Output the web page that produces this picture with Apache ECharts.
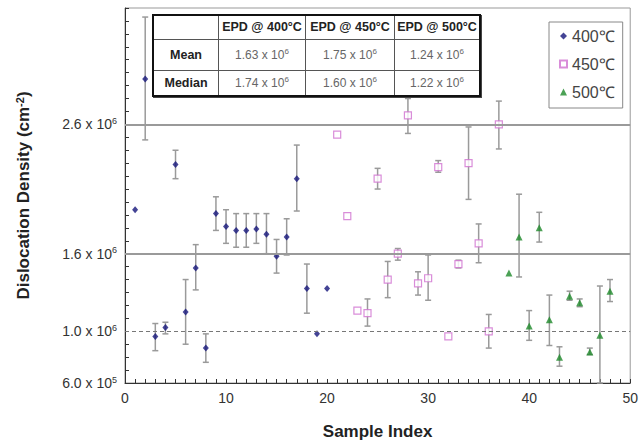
<!DOCTYPE html>
<html>
<head>
<meta charset="utf-8">
<script src="https://cdn.jsdelivr.net/npm/echarts@6/dist/echarts.min.js"></script>
<style>
  html, body { margin:0; padding:0; background:#fff; }
  #wrap { position:relative; width:641px; height:445px; }
  #chart { position:absolute; left:0; top:0; width:641px; height:445px; }
  #tbl { position:absolute; left:152px; top:14px; border-collapse:collapse; border:2.5px solid #111; background:#fff;
         box-shadow:1px 1px 0 #444; table-layout:fixed; }
  #tbl td { border:1px solid #555; text-align:center; padding:0; white-space:nowrap;
            font-family:'Liberation Sans', Arial, sans-serif; font-size:12px; color:#666; }
  #tbl td.h { font-weight:bold; color:#222; font-size:12.5px; }
  #tbl sup { font-size:8px; line-height:0; }
</style>
</head>
<body>
<div id="wrap">
  <div id="chart"></div>
  <table id="tbl"></table>
</div>
<script>
// ---- data (values in units of 10^6 cm^-2) ----
const x400  = [1,2,3,4,5,6,7,8,9,10,11,12,13,14,15,16,17,18,19,20];
const y400  = [1.94,2.95,0.96,1.03,2.29,1.15,1.49,0.87,1.91,1.81,1.78,1.78,1.79,1.75,1.58,1.73,2.18,1.33,0.98,1.33];
const lo400 = [null,2.48,0.85,0.98,2.18,0.90,1.32,0.76,1.78,1.68,1.65,1.65,1.68,1.60,1.45,1.59,1.93,1.14,null,null];
const hi400 = [null,3.43,1.06,1.07,2.40,1.40,1.67,0.98,2.04,1.94,1.91,1.91,1.91,1.91,1.71,1.87,2.44,1.52,null,null];

const x450  = [21,22,23,24,25,26,27,28,29,30,31,32,33,34,35,36,37];
const y450  = [2.52,1.89,1.16,1.14,2.18,1.40,1.60,2.67,1.37,1.41,2.27,0.96,1.52,2.30,1.68,1.00,2.60];
const lo450 = [null,null,null,1.04,2.10,1.26,1.55,2.53,1.28,1.24,2.23,null,1.49,2.02,1.53,0.87,2.41];
const hi450 = [null,null,null,1.25,2.26,1.54,1.64,2.80,1.46,1.59,2.32,null,1.55,2.58,1.83,1.13,2.78];

const x500  = [38,39,40,41,42,43,44,45,46,47,48];
const y500  = [1.45,1.73,1.04,1.80,1.09,0.80,1.27,1.22,0.84,0.97,1.31];
const lo500 = [null,1.42,0.93,1.69,0.89,0.73,1.24,1.19,0.82,0.60,1.23];
const hi500 = [null,2.06,1.16,1.92,1.28,0.88,1.31,1.25,0.87,1.35,1.40];

const seriesNames = ['400\u2103','450\u2103','500\u2103'];
const yTickLabels = [0.6, 1.0, 1.6, 2.6];
const xTickLabels = [0,10,20,30,40,50];
const solidRefLines = [2.6, 1.6];
const dashedRefLines = [1.0];

const tableCols = ['EPD @ 400\u00b0C','EPD @ 450\u00b0C','EPD @ 500\u00b0C'];
const tableRows = ['Mean','Median'];
const meanVals = ['1.63','1.75','1.24'];
const medianVals = ['1.74','1.60','1.22'];

// ---- table ----
(function(){
  const t = document.getElementById('tbl');
  const colW = [64,86,88,84];
  let html = '<tr style="height:24px"><td style="width:'+colW[0]+'px"></td>';
  tableCols.forEach((c,i)=>{ html += '<td class="h" style="width:'+colW[i+1]+'px">'+c+'</td>'; });
  html += '</tr>';
  [meanVals, medianVals].forEach((vals, r)=>{
    html += '<tr style="height:'+(r===0?31:26)+'px"><td class="h">'+tableRows[r]+'</td>';
    vals.forEach(v=>{ html += '<td>'+v+' x 10<sup>6</sup></td>'; });
    html += '</tr>';
  });
  t.innerHTML = html;
})();

function pts(xs, ys){ return xs.map((x,i)=>[x, ys[i]]); }
function errs(xs, lo, hi){ const out=[]; xs.forEach((x,i)=>{ if(lo[i]!=null) out.push([x, lo[i], hi[i]]); }); return out; }

function errRender(params, api){
  const x = api.value(0), lo = api.value(1), hi = api.value(2);
  const a = api.coord([x, hi]), b = api.coord([x, lo]);
  const w = 3;
  const st = {stroke:'#9a9a9a', lineWidth:1.5};
  return {type:'group', children:[
    {type:'line', shape:{x1:a[0],y1:a[1],x2:b[0],y2:b[1]}, style:st},
    {type:'line', shape:{x1:a[0]-w,y1:a[1],x2:a[0]+w,y2:a[1]}, style:st},
    {type:'line', shape:{x1:b[0]-w,y1:b[1],x2:b[0]+w,y2:b[1]}, style:st}
  ]};
}

function near(v, arr){ return arr.some(a=>Math.abs(a-v)<1e-6); }

const font = 'Liberation Sans';
const chart = echarts.init(document.getElementById('chart'), null, {renderer:'svg'});
chart.setOption({
  animation:false,
  grid:{left:125, right:9, top:8, bottom:62, show:true, borderColor:'#999', borderWidth:1},
  legend:{
    orient:'vertical', left:549, top:22, data:seriesNames,
    padding:[6,8,8,10], itemGap:12, itemWidth:7, itemHeight:7, itemTextGap:4,
    borderColor:'#888', borderWidth:1,
    textStyle:{fontSize:16, color:'#444', fontFamily:font}
  },
  xAxis:{
    type:'value', min:0, max:50, interval:1,
    name:'Sample Index', nameLocation:'middle', nameGap:40,
    nameTextStyle:{fontSize:17, fontWeight:'bold', color:'#222', fontFamily:font},
    axisLine:{lineStyle:{color:'#333', width:1}},
    axisTick:{inside:true, length:4, lineStyle:{color:'#333'}},
    splitLine:{show:false},
    axisLabel:{fontSize:14, color:'#333', fontFamily:font, margin:8,
      formatter:v=>near(v, xTickLabels)? String(Math.round(v)) : ''}
  },
  yAxis:{
    type:'value', min:0.6, max:3.5, interval:0.1,
    name:'Dislocation Density (cm{sup|-2})', nameLocation:'middle', nameGap:92, nameRotate:90,
    nameTextStyle:{fontSize:17, fontWeight:'bold', color:'#222', fontFamily:font,
      rich:{sup:{fontSize:11, fontWeight:'bold', color:'#222', verticalAlign:'top', padding:[0,0,8,0], fontFamily:font}}},
    axisLine:{show:true, lineStyle:{color:'#333', width:1}},
    axisTick:{inside:true, length:4, lineStyle:{color:'#333'}},
    splitLine:{show:false},
    axisLabel:{fontSize:14, color:'#333', fontFamily:font, margin:8,
      formatter:function(v){
        if(!near(v, yTickLabels)) return '';
        const raw = v*1e6;
        const e = Math.floor(Math.log10(raw)+1e-9);
        const m = raw/Math.pow(10,e);
        return m.toFixed(1)+' x 10{sup|'+e+'}';
      },
      rich:{sup:{fontSize:9, color:'#333', verticalAlign:'top', padding:[0,0,7,0], fontFamily:font}}
    }
  },
  series:[
    {type:'custom', name:'err400', renderItem:errRender, data:errs(x400, lo400, hi400), z:1, silent:true},
    {type:'custom', name:'err450', renderItem:errRender, data:errs(x450, lo450, hi450), z:1, silent:true},
    {type:'custom', name:'err500', renderItem:errRender, data:errs(x500, lo500, hi500), z:1, silent:true},
    {type:'scatter', name:seriesNames[0], data:pts(x400,y400), symbol:'diamond', symbolSize:[6,7],
      itemStyle:{color:'#15157a'}, z:3,
      markLine:{silent:true, symbol:'none', label:{show:false}, animation:false,
        data:[
          ...solidRefLines.map(v=>({yAxis:v, lineStyle:{color:'#9a9a9a', width:2, type:'solid'}})),
          ...dashedRefLines.map(v=>({yAxis:v, lineStyle:{color:'#777', width:1, type:[4,3]}}))
        ]}},
    {type:'scatter', name:seriesNames[1], data:pts(x450,y450), symbol:'rect', symbolSize:7,
      itemStyle:{color:'#ffffff', borderColor:'#d070d0', borderWidth:1.2}, z:3},
    {type:'scatter', name:seriesNames[2], data:pts(x500,y500), symbol:'triangle', symbolSize:7,
      itemStyle:{color:'#1e8a2a'}, z:3}
  ]
});
</script>
</body>
</html>
